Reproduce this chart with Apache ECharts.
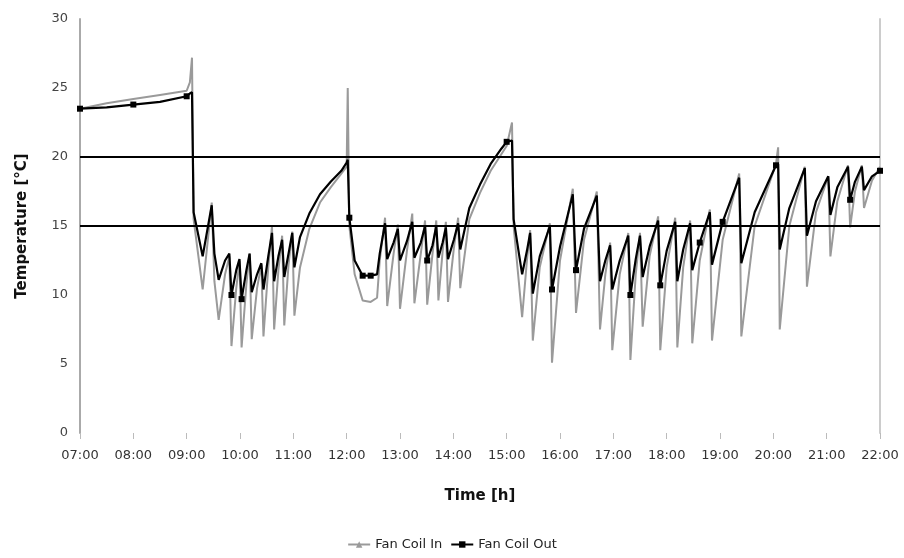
<!DOCTYPE html>
<html>
<head>
<meta charset="utf-8">
<script src="https://cdn.jsdelivr.net/npm/echarts@6/dist/echarts.min.js"></script>
<style>
  html, body { margin: 0; padding: 0; background: #fff; }
  #chart { width: 904px; height: 558px; }
</style>
</head>
<body>
<div id="chart"></div>
<script>
// hours after midnight (decimal)
var times = [
    7.0, 7.5, 8.0, 8.5, 9.0, 9.06, 9.1, 9.13,
    9.3, 9.47, 9.52, 9.6, 9.72, 9.8, 9.84, 9.93, 9.99, 10.03, 10.12, 10.18, 10.22, 10.32, 10.4, 10.44, 10.53, 10.6, 10.64, 10.72, 10.79, 10.83, 10.91, 10.98, 11.02, 11.125,
    11.3, 11.5, 11.7, 11.9, 12.0, 12.02, 12.05, 12.15, 12.3, 12.45, 12.57,
    12.62, 12.72, 12.76, 12.88, 12.96, 13.0, 13.13, 13.23, 13.27, 13.39, 13.47, 13.51, 13.61, 13.68, 13.72, 13.8, 13.86, 13.9, 14.01, 14.09, 14.13,
    14.3, 14.5, 14.7, 14.9, 15.0, 15.1, 15.13,
    15.29, 15.38, 15.44, 15.49, 15.62, 15.81, 15.85, 16.0, 16.24, 16.3, 16.45, 16.69, 16.75, 16.85, 16.94, 16.98, 17.12, 17.28, 17.32, 17.42,
    17.5, 17.55, 17.68, 17.84, 17.88, 18.0, 18.16, 18.2, 18.31, 18.44, 18.48, 18.62, 18.81, 18.85, 19.05, 19.36, 19.4, 19.65, 20.05, 20.09,
    20.12, 20.3, 20.59, 20.63, 20.8, 21.03, 21.07, 21.2, 21.4, 21.44, 21.53, 21.66, 21.7, 21.85, 22.0
];
var fanCoilIn = [
    23.5, 23.9, 24.2, 24.5, 24.8, 25.4, 27.2, 15.5,
    10.4, 16.7, 11.0, 8.2, 11.5, 12.8, 6.3, 10.5, 12.5, 6.2, 10.8, 13.0, 6.8, 10.5, 12.2, 7.0, 12.0, 15.0, 7.5, 11.8, 14.3, 7.8, 12.2, 14.6, 8.5, 12.0,
    14.8, 16.7, 17.8, 18.8, 19.3, 25.0, 15.0, 11.5, 9.6, 9.5, 9.8,
    12.5, 15.6, 9.2, 13.0, 15.1, 9.0, 13.2, 15.9, 9.4, 13.0, 15.4, 9.3, 13.0, 15.4, 9.6, 13.2, 15.3, 9.5, 13.4, 15.6, 10.5,
    15.5, 17.4, 19.0, 20.2, 20.8, 22.5, 15.0,
    8.4, 12.5, 14.7, 6.7, 12.0, 15.2, 5.1, 12.5, 17.7, 8.7, 14.0, 17.5, 7.5, 11.5, 13.8, 6.0, 11.5, 14.5, 5.3, 11.5,
    14.5, 7.7, 12.8, 15.7, 6.0, 12.0, 15.6, 6.2, 12.0, 15.4, 6.5, 12.5, 16.2, 6.7, 14.0, 18.8, 7.0, 15.0, 19.5, 20.7,
    7.5, 15.0, 19.3, 10.6, 16.0, 18.6, 12.8, 16.8, 19.4, 14.9, 17.5, 19.4, 16.3, 18.3, 19.3
];
var fanCoilOut = [
    23.5, 23.6, 23.8, 24.0, 24.4, 24.6, 24.7, 16.0,
    12.8, 16.5, 13.0, 11.1, 12.5, 13.0, 10.0, 11.8, 12.6, 9.7, 11.8, 13.0, 10.2, 11.5, 12.3, 10.4, 12.8, 14.5, 11.0, 12.8, 14.0, 11.3, 13.0, 14.5, 12.0, 14.2,
    15.9, 17.3, 18.2, 19.0, 19.6, 19.8, 15.6, 12.5, 11.4, 11.4, 11.5,
    13.0, 15.2, 12.6, 13.8, 14.8, 12.5, 13.9, 15.3, 12.7, 13.8, 15.0, 12.5, 13.6, 15.0, 12.7, 13.8, 14.9, 12.6, 14.0, 15.2, 13.3,
    16.3, 18.0, 19.5, 20.6, 21.1, 21.2, 15.5,
    11.5, 13.2, 14.5, 10.1, 12.8, 15.0, 10.4, 13.5, 17.3, 11.8, 14.8, 17.2, 11.0, 12.5, 13.6, 10.4, 12.5, 14.3, 10.0, 12.6,
    14.3, 11.3, 13.5, 15.4, 10.7, 13.2, 15.3, 11.0, 13.3, 15.2, 11.8, 13.8, 16.0, 12.2, 15.3, 18.5, 12.3, 16.0, 19.4, 19.5,
    13.3, 16.3, 19.2, 14.3, 16.8, 18.6, 15.8, 17.8, 19.3, 16.9, 18.2, 19.3, 17.6, 18.6, 19.0
];
// points of the Out series drawn with a square marker
var outMarked = [7.0, 8.0, 9.0, 9.84, 10.03, 12.05, 12.3, 12.45, 13.51, 15.0, 15.85, 16.3, 17.32, 17.88, 18.62, 19.05, 20.05, 21.44, 22.0];
// set-point lines
var limits = [15, 20];
var tickLabels = ['07:00', '08:00', '09:00', '10:00', '11:00', '12:00', '13:00', '14:00',
    '15:00', '16:00', '17:00', '18:00', '19:00', '20:00', '21:00', '22:00'];

var inData = times.map(function (t, i) {
    return [t, fanCoilIn[i]];
});
var outData = times.map(function (t, i) {
    var item = { value: [t, fanCoilOut[i]] };
    if (outMarked.indexOf(t) < 0) item.symbol = 'none';
    return item;
});

var chart = echarts.init(document.getElementById('chart'));
var font = 'DejaVu Sans';
var option = {
    animation: false,
    textStyle: { fontFamily: font },
    grid: { left: 80, right: 24, top: 19, bottom: 125, containLabel: false },
    legend: {
        bottom: 2,
        left: 'center',
        itemWidth: 22,
        itemHeight: 8,
        itemGap: 8,
        textStyle: { fontFamily: font, fontSize: 13, color: '#222' },
        data: ['Fan Coil In', 'Fan Coil Out']
    },
    xAxis: {
        type: 'value',
        min: 7,
        max: 22,
        interval: 1,
        name: 'Time [h]',
        nameLocation: 'middle',
        nameGap: 56,
        nameTextStyle: { fontFamily: font, fontSize: 15, fontWeight: 'bold', color: '#111' },
        axisLine: { show: false },
        axisTick: { show: true, length: 6, lineStyle: { color: '#bbb' } },
        axisLabel: {
            fontSize: 13,
            color: '#333',
            margin: 16,
            formatter: function (v) { return tickLabels[v - 7]; }
        },
        splitLine: { show: false }
    },
    yAxis: [{
        type: 'value',
        min: 0,
        max: 30,
        interval: 5,
        name: 'Temperature [°C]',
        nameLocation: 'middle',
        nameGap: 50,
        nameTextStyle: { fontFamily: font, fontSize: 15, fontWeight: 'bold', color: '#111' },
        axisLine: { show: true, lineStyle: { color: '#aaa', width: 2 } },
        axisTick: { show: false },
        axisLabel: { fontSize: 13, color: '#444', margin: 12 },
        splitLine: { show: false }
    }, {
        type: 'value',
        min: 0,
        max: 30,
        interval: 5,
        position: 'right',
        axisLine: { show: true, lineStyle: { color: '#ccc', width: 2 } },
        axisTick: { show: false },
        axisLabel: { show: false },
        splitLine: { show: false }
    }],
    series: [
        {
            name: 'Fan Coil In',
            type: 'line',
            data: inData,
            symbol: 'triangle',
            symbolSize: 5,
            showSymbol: false,
            color: '#9a9a9a',
            lineStyle: { color: '#9a9a9a', width: 2 },
            z: 2
        },
        {
            name: 'Fan Coil Out',
            type: 'line',
            data: outData,
            symbol: 'rect',
            symbolSize: 6,
            showAllSymbol: true,
            color: '#000',
            itemStyle: { color: '#000' },
            lineStyle: { color: '#000', width: 2.2 },
            z: 3,
            markLine: {
                silent: true,
                symbol: 'none',
                label: { show: false },
                lineStyle: { color: '#000', width: 2, type: 'solid' },
                data: limits.map(function (v) { return { yAxis: v }; })
            }
        }
    ]
};
chart.setOption(option);
</script>
</body>
</html>
